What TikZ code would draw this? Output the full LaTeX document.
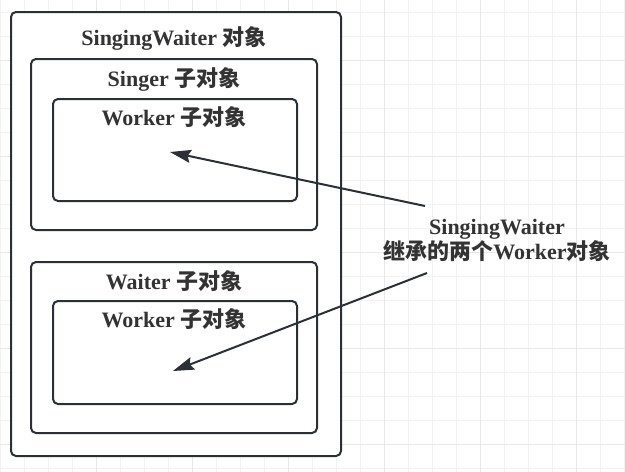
\documentclass[tikz,border=0pt]{standalone}
\usepackage{fontspec}
\setmainfont{Liberation Serif}
\newfontfamily\cjkfont{Noto Sans CJK SC}
\usetikzlibrary{arrows.meta}
\definecolor{linec}{HTML}{2B3036}
\definecolor{textc}{HTML}{333333}
\definecolor{gridminor}{HTML}{F2F2F2}
\definecolor{gridmajor}{HTML}{E8E8E8}
\newcommand{\zh}[1]{{\cjkfont\bfseries #1}}
\tikzset{
  objbox/.style={draw=linec, line width=2pt, rounded corners=5pt, fill=white, inner sep=0pt, anchor=north west},
  lbl/.style={font=\fontsize{22}{25}\selectfont\bfseries, text=textc, inner sep=0pt, anchor=base},
  inherit/.style={draw=linec, line width=2pt, -{Stealth[length=21pt,width=13pt,inset=3pt]}}
}
\begin{document}
\begin{tikzpicture}[x=1pt,y=-1pt]
\useasboundingbox (0,0) rectangle (625,472);
\fill[white] (0,0) rectangle (625,472);
% grid
\foreach \gx in {0,24,...,624} \draw[gridminor, line width=1pt] (\gx,0) -- (\gx,472);
\foreach \gy in {12,36,...,468} \draw[gridminor, line width=1pt] (0,\gy) -- (625,\gy);
\foreach \gx in {96,192,...,576} \draw[gridmajor, line width=1pt] (\gx,0) -- (\gx,472);
\foreach \gy in {60,156,...,444} \draw[gridmajor, line width=1pt] (0,\gy) -- (625,\gy);
% boxes
\node[objbox, minimum width=330pt, minimum height=444pt] (sw) at (10,11) {};
\node[objbox, minimum width=286pt, minimum height=171pt] (singer) at (30,58) {};
\node[objbox, minimum width=244pt, minimum height=102pt] (worker1) at (52,98) {};
\node[objbox, minimum width=286pt, minimum height=171pt] (waiter) at (30,261) {};
\node[objbox, minimum width=244pt, minimum height=103pt] (worker2) at (52,300) {};
% labels
\node[lbl] (swl) at (174,45) {SingingWaiter \zh{对象}};
\node[lbl] (singerl) at (174,86) {Singer \zh{子对象}};
\node[lbl] (worker1l) at (174,125) {Worker \zh{子对象}};
\node[lbl] (waiterl) at (174,289) {Waiter \zh{子对象}};
\node[lbl] (worker2l) at (174,327) {Worker \zh{子对象}};
\node[lbl, anchor=center, align=center] (note) at (497,240) {SingingWaiter\\\zh{继承的两个}Worker\zh{对象}};
% arrows
\coordinate (s1) at (425,206);
\coordinate (t1) at (170,152);
\coordinate (s2) at (427,273);
\coordinate (t2) at (173,371);
\draw[inherit] (s1) -- (t1);
\draw[inherit] (s2) -- (t2);
\end{tikzpicture}
\end{document}
